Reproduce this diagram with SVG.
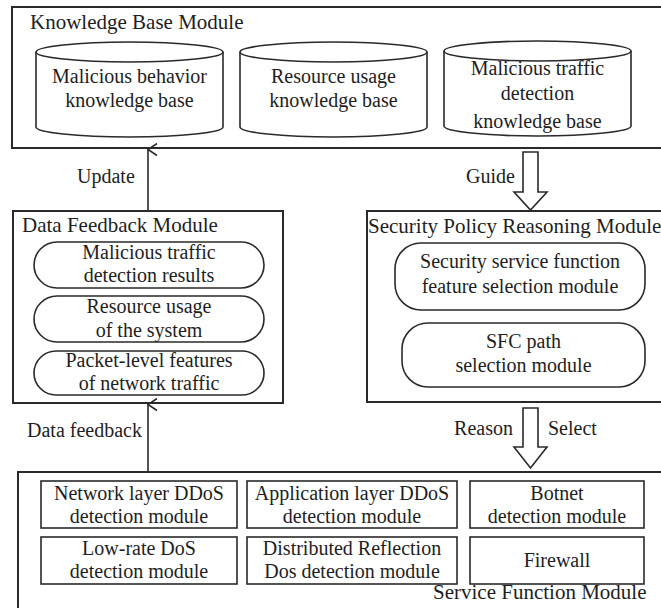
<svg xmlns="http://www.w3.org/2000/svg" width="661" height="608" viewBox="0 0 661 608">
  <style>
    .box { fill: #fff; stroke: #2a2a2a; stroke-width: 2; }
    .inner { fill: #fff; stroke: #2a2a2a; stroke-width: 1.6; }
    .line { fill: none; stroke: #2a2a2a; stroke-width: 1.6; }
    .block { fill: #fff; stroke: #2a2a2a; stroke-width: 1.6; stroke-linejoin: miter; }
    text { font-size: 20px; fill: #1e1e1e; }
    .title { font-size: 21px; }
    .c { text-anchor: middle; }
    .e { text-anchor: end; }
  </style>
  <defs>
    <marker id="openHead" viewBox="0 0 14 12" refX="7" refY="1" markerWidth="14" markerHeight="12" markerUnits="userSpaceOnUse" orient="auto-start-reverse">
      <path d="M1,10 L7,1 L13,10" fill="none" stroke="#2a2a2a" stroke-width="1.6"/>
    </marker>
  </defs>
  <rect width="661" height="608" fill="#fff"/>

  <g font-family="'Liberation Serif', 'Times New Roman', Tinos, 'DejaVu Serif', serif">
  <g id="knowledge-base-module">
    <rect class="box" x="12" y="7" width="660" height="141"/>
    <text class="title" x="30" y="29">Knowledge Base Module</text>
    <g id="kb-malicious-behavior">
      <path class="inner" d="M36,52 L36,127 A93.5,10 0 0 0 223,127 L223,52"/>
      <ellipse class="inner" cx="129.5" cy="52" rx="93.5" ry="10"/>
      <text class="c" x="129.5" y="83">Malicious behavior</text>
      <text class="c" x="129.5" y="107">knowledge base</text>
    </g>
    <g id="kb-resource-usage">
      <path class="inner" d="M240,52 L240,127 A93.5,10 0 0 0 427,127 L427,52"/>
      <ellipse class="inner" cx="333.5" cy="52" rx="93.5" ry="10"/>
      <text class="c" x="333.5" y="83">Resource usage</text>
      <text class="c" x="333.5" y="107">knowledge base</text>
    </g>
    <g id="kb-malicious-traffic">
      <path class="inner" d="M444,51 L444,126 A93.5,10 0 0 0 631,126 L631,51"/>
      <ellipse class="inner" cx="537.5" cy="51" rx="93.5" ry="10"/>
      <text class="c" x="537.5" y="75">Malicious traffic</text>
      <text class="c" x="537.5" y="100">detection</text>
      <text class="c" x="537.5" y="128">knowledge base</text>
    </g>
  </g>

  <g id="data-feedback-module">
    <rect class="box" x="13" y="211" width="270" height="192"/>
    <text class="title" x="22" y="232">Data Feedback Module</text>
    <rect class="inner" x="34" y="242" width="230" height="46" rx="23" ry="23"/>
    <text class="c" x="149" y="259">Malicious traffic</text>
    <text class="c" x="149" y="282">detection results</text>
    <rect class="inner" x="34" y="296" width="230" height="46" rx="23" ry="23"/>
    <text class="c" x="149" y="313">Resource usage</text>
    <text class="c" x="149" y="337">of the system</text>
    <rect class="inner" x="34" y="351" width="230" height="44" rx="22" ry="22"/>
    <text class="c" x="149" y="367">Packet-level features</text>
    <text class="c" x="149" y="390">of network traffic</text>
  </g>

  <g id="security-policy-reasoning-module">
    <rect class="box" x="367" y="211" width="305" height="191"/>
    <text class="title" x="368" y="233">Security Policy Reasoning Module</text>
    <rect class="inner" x="395" y="243" width="250" height="67" rx="26" ry="26"/>
    <text class="c" x="520" y="268">Security service function</text>
    <text class="c" x="520" y="293">feature selection module</text>
    <rect class="inner" x="402" y="323" width="243" height="64" rx="26" ry="26"/>
    <text class="c" x="523.5" y="348">SFC path</text>
    <text class="c" x="523.5" y="372">selection module</text>
  </g>

  <g id="service-function-module">
    <rect class="box" x="18" y="472" width="660" height="150"/>
    <rect class="inner" x="41" y="481" width="196" height="47"/>
    <text class="c" x="139" y="500">Network layer DDoS</text>
    <text class="c" x="139" y="523">detection module</text>
    <rect class="inner" x="247" y="481" width="210" height="47"/>
    <text class="c" x="352" y="500">Application layer DDoS</text>
    <text class="c" x="352" y="523">detection module</text>
    <rect class="inner" x="470" y="481" width="174" height="47"/>
    <text class="c" x="557" y="500">Botnet</text>
    <text class="c" x="557" y="523">detection module</text>
    <rect class="inner" x="41" y="537" width="196" height="47"/>
    <text class="c" x="139" y="555">Low-rate DoS</text>
    <text class="c" x="139" y="578">detection module</text>
    <rect class="inner" x="247" y="537" width="210" height="47"/>
    <text class="c" x="352" y="555">Distributed Reflection</text>
    <text class="c" x="352" y="578">Dos detection module</text>
    <rect class="inner" x="470" y="537" width="174" height="47"/>
    <text class="c" x="557" y="567">Firewall</text>
    <text class="title" x="433" y="599">Service Function Module</text>
  </g>

  <g id="connectors">
    <!-- Data Feedback -> Knowledge Base -->
    <line class="line" x1="148" y1="211" x2="148" y2="149.5" marker-end="url(#openHead)"/>
    <text x="77" y="183">Update</text>
    <!-- Service Function -> Data Feedback -->
    <line class="line" x1="148" y1="472" x2="148" y2="404.5" marker-end="url(#openHead)"/>
    <text x="27" y="437">Data feedback</text>
    <!-- Knowledge Base => Security Policy Reasoning -->
    <polygon class="block" points="523,152 538,152 538,192 547,192 530.5,210 514,192 523,192"/>
    <text class="e" x="515" y="183">Guide</text>
    <!-- Security Policy Reasoning => Service Function -->
    <polygon class="block" points="523,408 538,408 538,447 547,447 530.5,468 514,447 523,447"/>
    <text class="e" x="513" y="435">Reason</text>
    <text x="548" y="435">Select</text>
  </g>
  </g>
</svg>
